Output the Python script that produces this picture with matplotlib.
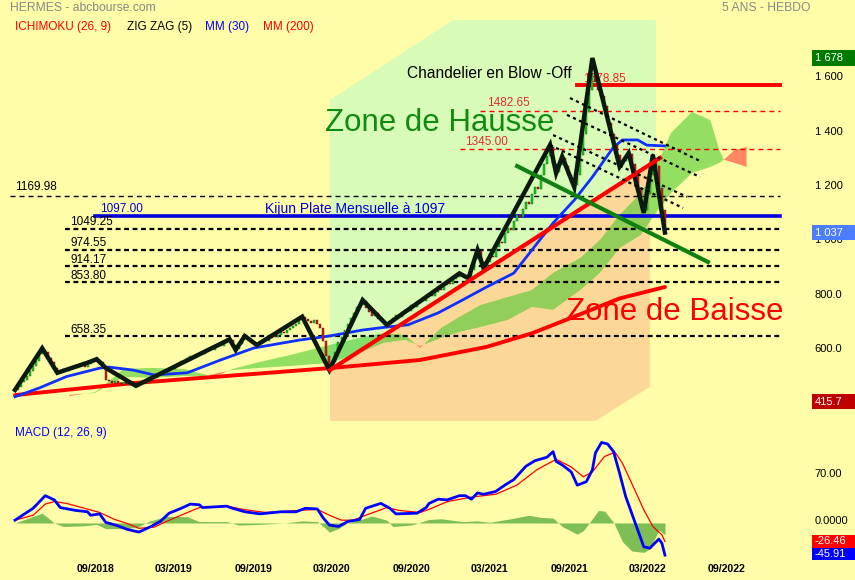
import matplotlib
matplotlib.use('Agg')
import matplotlib.pyplot as plt
import matplotlib.transforms as mtransforms
from matplotlib.patches import Rectangle
import numpy as np
import pandas as pd

plt.rcParams['font.family'] = ['Liberation Sans', 'DejaVu Sans']

# weekly closes, week 0 = 2018-02-26
closes = [459, 470, 488, 495, 510, 530, 548, 565, 590, 605,
          598, 575, 560, 538, 525,
          530, 535, 528, 540, 545, 538, 548, 550, 545, 556,
          560, 565, 570,
          562, 540, 495,
          490, 486, 492, 485, 482, 488, 480, 476, 479, 474,
          480, 488, 485, 498, 506, 503, 515, 522, 518, 532, 540, 536, 552, 558, 566, 562,
          575, 582, 578, 590, 596, 592, 604, 610, 606, 618, 624, 620, 632, 638, 642,
          625, 610,
          628, 645, 655,
          645, 635, 628, 626,
          632, 640, 638, 648, 655, 652, 662, 670, 668, 680, 688, 695, 702, 715, 725,
          718, 712, 705, 716, 700, 685, 640, 585, 535,
          560, 600, 635, 655, 680, 702, 722, 740, 762, 770, 785,
          760, 745, 730, 742, 720, 712, 705, 700,
          710, 722, 735, 728, 745, 752, 748, 770, 765, 778, 790, 785, 800, 810, 805, 820,
          830, 826, 845, 852, 848, 868, 875, 885,
          878, 872, 870,
          900, 940, 968,
          930, 910,
          930, 952, 948, 985, 1002, 998, 1035, 1052, 1045, 1080, 1102, 1095, 1125, 1150,
          1142, 1180, 1205, 1198, 1250, 1290, 1318, 1350,
          1290, 1260,
          1285, 1310,
          1280, 1250, 1225, 1210,
          1250, 1320, 1400, 1480, 1560, 1620,
          1590, 1560, 1540, 1500, 1440, 1400, 1360, 1320, 1285,
          1300, 1315, 1325,
          1290, 1250, 1200, 1150, 1120,
          1180, 1250, 1310,
          1280, 1200, 1120, 1037]

# zig zag (5) pivots
zz_week = [0, 9, 14, 24, 27, 30, 40, 71, 73, 76, 80, 95, 104, 115, 123, 147, 150, 153, 155,
           177, 179, 181, 185, 191, 200, 203, 208, 211, 215]
zz_price = [459, 612, 522, 559, 572, 540, 474, 645, 606, 657, 624, 728, 532, 789, 698, 887, 869,
            973, 906, 1359, 1255, 1316, 1204, 1678, 1279, 1329, 1109, 1322, 1037]

# moving averages
ma30_week = [0, 8, 17, 28, 31, 39, 46, 57, 68, 79, 94, 104, 115, 123, 130, 140, 148, 156, 165,
             171, 178, 185, 191, 198, 201, 206, 209, 215]
ma30 = [434, 466, 508, 539, 543, 532, 514, 522, 569, 613, 642, 657, 679, 690, 698, 742, 789, 837,
        888, 973, 1072, 1156, 1241, 1351, 1377, 1377, 1358, 1355]
ma200_week = [0, 39, 104, 134, 156, 171, 187, 200, 215]
ma200 = [440, 484, 539, 569, 617, 667, 737, 795, 837]

# ichimoku cloud
cloud_week = [18, 26.5, 30, 36, 45, 56, 62, 66, 72, 81, 91, 104, 114, 122, 129, 134, 141, 147,
              154, 163, 171, 178, 187, 193.5, 200, 207, 212, 217, 224, 230, 233, 234.5, 238, 242]
span_a = [436, 451, 481, 536, 540, 536, 518, 507, 536, 562, 587, 624, 650, 668, 661, 613, 687,
          727, 771, 800, 826, 889, 944, 1010, 1102, 1182, 1274, 1403, 1480, 1450, 1340, 1304,
          1293, 1278]
span_b = [441, 448, 470, 507, 503, 510, 507, 518, 532, 540, 547, 558, 595, 632, 643, 620, 650,
          672, 690, 716, 764, 753, 826, 889, 980, 1028, 1109, 1182, 1256, 1278, 1293, 1304,
          1340, 1351]

# MACD (12, 26, 9)
macd_week = [0, 6, 10, 13, 15, 20, 24, 25, 28, 30, 34, 37, 41, 45, 48, 51, 55, 58, 61, 62, 70,
             72, 76, 81, 88, 93, 96, 100, 102, 104, 107, 110, 114, 116, 121, 124, 126, 133, 136,
             137, 140, 143, 147, 149, 151, 153, 155, 159, 162, 165, 169, 172, 176, 178, 179, 181,
             184, 186, 189, 191, 192, 194, 196, 198, 200, 202, 205, 208, 210, 213, 214, 215]
macd = [4, 21, 39, 33, 22, 18, 16, 11, 13, 1, -4, -9, -13, -5, 2, 14, 21, 27, 26, 22, 24, 21,
        16, 13, 16, 16, 21, 20, 7, -3, -5, 2, 5, 21, 28, 21, 13, 14, 22, 28, 34, 33, 39, 39, 34,
        43, 41, 45, 54, 62, 81, 89, 94, 102, 88, 83, 73, 54, 59, 76, 100, 115, 113, 102, 71, 38,
        2, -34, -36, -23, -29, -45.91]
sig_week = [0, 6, 10, 13, 17, 23, 28, 33, 37, 41, 46, 50, 56, 61, 70, 76, 83, 94, 100, 104, 108,
            112, 116, 123, 127, 134, 137, 143, 151, 159, 166, 172.6, 179, 184, 188, 191, 195,
            198.5, 201, 204.5, 208, 211, 214, 215]
signal = [4, 11, 27, 30.5, 28, 21, 15, 5, -0.5, -7.6, -6, 2, 13, 22, 24, 19, 15, 18, 19.5, 11,
          4, 4, 11, 22, 18, 15, 19.5, 30.5, 37, 41, 54, 76, 91, 80, 66, 73, 95, 101, 85, 52, 19,
          -5, -17, -26.46]
hist_week = [0, 9, 13, 16, 23, 27, 30, 37, 41, 44, 50, 57, 61, 70, 74, 81, 89, 95, 100, 102, 104,
             107, 110, 116, 118, 123, 125, 131, 137, 141, 148, 153, 157, 164, 170, 174, 178, 181,
             186, 188, 191, 193, 195, 198, 201, 204, 208, 210, 213, 215]
hist = [0, 14, 0, -5, -4, -2, -8, -8, -5, 2, 9.5, 9, 2, 2, -3, -2, 0, 3, 2, -5, -13, -8, 0, 7,
        10, 4, -5, -3, 5, 6, 2, 3, 1, 6, 11, 8, 7, -5, -16, -11, 6, 18, 17, 1, -27, -40, -42,
        -37, -10, -17]

# drawn trend lines
trend_up_week = [104.2, 213.4]
trend_up_price = [532, 1311]
trend_dn_week = [166.1, 229.2]
trend_dn_price = [1281, 929]
channel_week = [(183.6, 227.3), (182.6, 226.6), (178, 222.3), (177, 221)]
channel_price = [(1531, 1296), (1469, 1241), (1395, 1168), (1358, 1127)]

# zones
hausse_week = [104.2, 104.2, 144.9, 212, 212]
hausse_price = [532, 1524, 1817, 1817, 1301]
baisse_week = [104.2, 210, 210, 191.9, 104.2]
baisse_price = [532, 1287, 470, 345, 345]

# horizontal levels
fibo_levels = [1049.25, 974.55, 914.17, 853.80, 658.35]
fibo_text_price = [1075.8, 998.6, 936, 877.5, 679]
red_levels = [1482.65, 1345.00]
red_start = [153.8, 147.2]
red_text = [(156, 1511.6), (148.9, 1370.6)]

date_labels = ['09/2018', '03/2019', '09/2019', '03/2020', '09/2020', '03/2021', '09/2021',
               '03/2022', '09/2022']
price_ticks = [1600, 1400, 1200, 1000, 800, 600]
price_tick_labels = ['1 600', '1 400', '1 200', '1 000', '800.0', '600.0']

BG = '#FFFDA8'
start = pd.Timestamp('2018-02-26')
date_pos = [(pd.Timestamp(d[3:] + '-' + d[:2] + '-01') - start).days / 7 for d in date_labels]

fig = plt.figure(figsize=(8.55, 5.8), dpi=100, facecolor=BG)
ax = fig.add_axes([0, 155 / 580, 1, 425 / 580])
ax.set_xlim(-4.962, 277.87)
ax.set_ylim(330.2, 1891.0)
ax.set_axis_off()
trans = mtransforms.blended_transform_factory(ax.transAxes, ax.transData)

# zones
ax.fill(hausse_week, hausse_price, color='#D8FCB8', zorder=0, lw=0)
ax.fill(baisse_week, baisse_price, color='#FCD898', zorder=0, lw=0)

# cloud
a = np.array(span_a, float)
b = np.array(span_b, float)
ax.fill_between(cloud_week, a, b, where=a >= b, interpolate=True, color='#3CC828', alpha=0.55,
                lw=0, zorder=1)
ax.fill_between(cloud_week, a, b, where=a < b, interpolate=True, color='#FF6A50', alpha=0.8,
                lw=0, zorder=1)

# horizontal levels
ax.plot([-1.65, 253.1], [1169.98, 1169.98], color='black', lw=1, dashes=(3.6, 2.9), zorder=2)
ax.text(0, 1204.3, '1169.98', fontsize=8.5, va='center', zorder=6)
for lv, tp in zip(fibo_levels, fibo_text_price):
    ax.plot([16.5, 253.1], [lv, lv], color='black', lw=1.6, dashes=(2.2, 1.6), zorder=2)
    ax.text(18.2, tp, '%.2f' % lv, fontsize=8.5, va='center', zorder=6)
for lv, st, (tx, ty) in zip(red_levels, red_start, red_text):
    ax.plot([st, 253.1], [lv, lv], color='#FF0000', lw=1, dashes=(3.6, 2.9), zorder=2)
    ax.text(tx, ty, '%.2f' % lv, fontsize=8.5, va='center', color='#D83030', zorder=2)
ax.plot([26.5, 253.1], [1097, 1097], color='#0000E0', lw=2.6, zorder=3)
ax.text(28.1, 1123.5, '1097.00', fontsize=8.5, va='center', color='#0000E0', zorder=6)
ax.text(82.7, 1123.5, 'Kijun Plate Mensuelle à 1097', fontsize=10, va='center',
        color='#0000E0', zorder=6)
ax.plot([185.9, 253.1], [1578.85, 1578.85], color='#FF0000', lw=2.8, zorder=3)
ax.text(187.8, 1599.8, '1578.85', fontsize=8.5, va='center', color='#FF2020', zorder=3)

# moving averages
ax.plot(ma200_week, ma200, color='#FF0000', lw=2.8, zorder=3, solid_capstyle='round')
ax.plot(ma30_week, ma30, color='#1030FF', lw=2.0, zorder=3)

# candles
opens = [closes[0]] + closes[:-1]
for i, (o, c) in enumerate(zip(opens, closes)):
    up = c >= o
    h = max(abs(c - o), 4)
    ax.bar(i, h, bottom=min(o, c), width=0.65, color='#22CC22' if up else '#CC2222',
           edgecolor='#005500' if up else '#550000', lw=0.3, zorder=4)

# zig zag
ax.plot(zz_week, zz_price, color='#0A1A10', lw=3.2, zorder=5, solid_joinstyle='miter')

# trend lines
ax.plot(trend_up_week, trend_up_price, color='#FF0000', lw=3, zorder=6)
ax.plot(trend_dn_week, trend_dn_price, color='#108010', lw=3, zorder=6)
for cw, cp in zip(channel_week, channel_price):
    ax.plot(cw, cp, color='black', lw=1.6, dashes=(1.4, 1.6), zorder=6)

# annotations
ax.text(129.8, 1622, 'Chandelier en Blow -Off', fontsize=11.2, va='center', zorder=6)
ax.text(102.5, 1439, 'Zone de Hausse', fontsize=22.5, va='center', color='#108A10', zorder=6)
ax.text(182.3, 746, 'Zone de Baisse', fontsize=22.5, va='center', color='#FF0000', zorder=6)

# right price scale
for v, lab in zip(price_ticks, price_tick_labels):
    ax.text(0.953, v + 8, lab, transform=trans, fontsize=8, va='center', zorder=7)
for v, lab, col in [(1678, '1 678', '#007A00'), (1037, '1 037', '#4A7DFF'),
                    (415.7, '415.7', '#C00000')]:
    ax.add_patch(Rectangle((0.9497, v - 28), 0.0503, 56, transform=trans, color=col,
                           zorder=8, lw=0))
    ax.text(0.953, v, lab, transform=trans, fontsize=8, va='center', color='white', zorder=9)

# MACD panel
mx = fig.add_axes([0, 20 / 580, 1, 135 / 580])
mx.set_xlim(-4.962, 277.87)
mx.set_ylim(-52.9, 140)
mx.set_facecolor('none')
for s in mx.spines.values():
    s.set_visible(False)
mx.set_yticks([])
mx.set_xticks(date_pos)
mx.set_xticklabels(date_labels, fontsize=7.6, fontweight='bold')
mx.tick_params(axis='x', length=0, pad=3)
mt = mtransforms.blended_transform_factory(mx.transAxes, mx.transData)
mx.fill_between(hist_week, hist, 0, color='#7DBE55', lw=0, zorder=1)
mx.plot(sig_week, signal, color='#FF0000', lw=0.9, zorder=2)
mx.plot(macd_week, macd, color='#0000FF', lw=2.0, zorder=3)
mx.text(0.953, 70, '70.00', transform=mt, fontsize=8, va='center')
mx.text(0.953, 3, '0.0000', transform=mt, fontsize=8, va='center')
for v, lab, col in [(-26.46, '-26.46', '#FF0000'), (-44.6, '-45.91', '#0000FF')]:
    mx.add_patch(Rectangle((0.9497, v - 9), 0.0503, 18, transform=mt, color=col, zorder=8,
                           lw=0, clip_on=False))
    mx.text(0.953, v, lab, transform=mt, fontsize=8, va='center', color='white', zorder=9)
fig.text(15 / 855, 1 - 433 / 580, 'MACD (12, 26, 9)', fontsize=8.5, color='#0000FF',
         va='center')

# header
fig.text(10 / 855, 1 - 8 / 580, 'HERMES - abcbourse.com', fontsize=8.7, color='#888888',
         va='center')
fig.text(810 / 855, 1 - 8 / 580, '5 ANS - HEBDO', fontsize=8.7, color='#888888', va='center',
         ha='right')
for x, lab, col in [(15, 'ICHIMOKU (26, 9)', '#FF0000'), (127, 'ZIG ZAG (5)', 'black'),
                    (205, 'MM (30)', '#0000FF'), (263, 'MM (200)', '#FF0000')]:
    fig.text(x / 855, 1 - 27 / 580, lab, fontsize=8.5, color=col, va='center')

fig.savefig('out.png', dpi=100, facecolor=BG)
